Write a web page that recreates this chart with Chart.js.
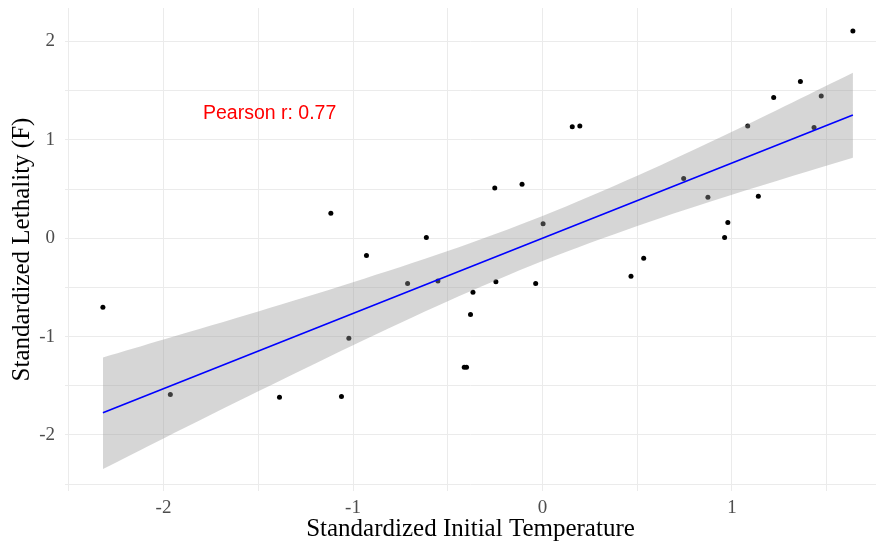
<!DOCTYPE html>
<html>
<head>
<meta charset="utf-8">
<script src="https://cdn.jsdelivr.net/npm/chart.js@4.4.1/dist/chart.umd.min.js"></script>
<style>
  html, body { margin: 0; padding: 0; background: #fff; }
</style>
</head>
<body>
<canvas id="grafico" width="880" height="544"></canvas>
<script>
// Dados (valores padronizados)
const tempInicial = [-2.320, -1.964, -1.388, -1.117, -1.061, -1.022, -0.929, -0.712, -0.613, -0.552,
                     -0.413, -0.401, -0.380, -0.367, -0.252, -0.246, -0.108, -0.036, 0.003, 0.157,
                     0.197, 0.467, 0.534, 0.745, 0.873, 0.961, 0.978, 1.083, 1.139, 1.220,
                     1.361, 1.433, 1.471, 1.638];
const letalidade = [-0.701, -1.589, -1.616, 0.254, -1.609, -1.016, -0.177, -0.461, 0.006, -0.434,
                    -1.311, -1.311, -0.776, -0.549, 0.511, -0.444, 0.549, -0.461, 0.148, 1.134,
                    1.141, -0.386, -0.203, 0.606, 0.417, 0.006, 0.159, 1.141, 0.427, 1.429,
                    1.592, 1.124, 1.446, 2.107];

// Reta de regressão e faixa de confiança
const retaX = [-2.32, 1.638];
const retaY = [-1.775, 1.253];
const faixaX = [-2.32, -2.0, -1.5, -1.0, -0.5, 0.0, 0.5, 1.0, 1.638];
const faixaSup = [-1.213, -1.03, -0.745, -0.448, -0.131, 0.226, 0.635, 1.082, 1.683];
const faixaInf = [-2.348, -2.036, -1.557, -1.088, -0.641, -0.232, 0.125, 0.442, 0.818];

// Ticks
const ticksX = [-2.5, -2, -1.5, -1, -0.5, 0, 0.5, 1, 1.5];
const ticksY = [-2.5, -2, -1.5, -1, -0.5, 0, 0.5, 1, 1.5, 2];

const textoPearson = 'Pearson r: 0.77';
const posPearson = { x: -1.44, y: 1.27 };

const pares = (xs, ys) => xs.map((v, i) => ({ x: v, y: ys[i] }));

// Texto do coeficiente
const anotacao = {
    id: 'anotacao',
    afterDatasetsDraw(chart) {
        const { ctx, scales: { x, y } } = chart;
        ctx.save();
        ctx.font = '19.5px "Liberation Sans"';
        ctx.fillStyle = '#ff0000';
        ctx.textAlign = 'center';
        ctx.textBaseline = 'middle';
        ctx.fillText(textoPearson, x.getPixelForValue(posPearson.x), y.getPixelForValue(posPearson.y));
        ctx.restore();
    }
};

const fonteEixo = { family: '"Liberation Serif"', size: 19 };
const fonteTitulo = { family: '"Liberation Serif"', size: 25 };

const grafico = new Chart(document.getElementById('grafico').getContext('2d'), {
    type: 'scatter',
    data: {
        datasets: [{
            label: 'Pontos',
            data: pares(tempInicial, letalidade),
            backgroundColor: '#000',
            borderWidth: 0,
            pointRadius: 2.5,
            order: 3
        }, {
            label: 'IC inferior',
            data: pares(faixaX, faixaInf),
            showLine: true,
            borderWidth: 0,
            pointRadius: 0,
            fill: false,
            tension: 0.3,
            order: 2
        }, {
            label: 'IC superior',
            data: pares(faixaX, faixaSup),
            showLine: true,
            borderWidth: 0,
            pointRadius: 0,
            fill: '-1',
            backgroundColor: 'rgba(153, 153, 153, 0.4)',
            tension: 0.3,
            order: 2
        }, {
            label: 'Regressão',
            data: pares(retaX, retaY),
            showLine: true,
            borderColor: '#0000ff',
            borderWidth: 1.6,
            pointRadius: 0,
            order: 1
        }]
    },
    options: {
        responsive: false,
        animation: false,
        layout: { padding: { top: 8, right: 2, left: 0, bottom: 0 } },
        plugins: { legend: { display: false }, tooltip: { enabled: false } },
        scales: {
            x: {
                type: 'linear',
                min: -2.52,
                max: 1.76,
                afterBuildTicks: s => { s.ticks = ticksX.map(v => ({ value: v })); },
                afterFit: s => { s.height = 53; s.paddingLeft = 0; s.paddingRight = 0; },
                grid: { color: '#ebebeb', drawTicks: false },
                border: { display: false },
                ticks: {
                    autoSkip: false, maxRotation: 0, padding: 6,
                    color: '#4d4d4d', font: fonteEixo,
                    callback: v => Number.isInteger(v) ? String(v) : ''
                },
                title: {
                    display: true, text: 'Standardized Initial Temperature',
                    color: '#000', font: fonteTitulo, padding: { top: 0, bottom: 0 }
                }
            },
            y: {
                type: 'linear',
                min: -2.57,
                max: 2.34,
                afterBuildTicks: s => { s.ticks = ticksY.map(v => ({ value: v })); },
                afterFit: s => { s.width = 65; s.paddingTop = 0; s.paddingBottom = 0; },
                grid: { color: '#ebebeb', drawTicks: false },
                border: { display: false },
                ticks: {
                    autoSkip: false, padding: 10,
                    color: '#4d4d4d', font: fonteEixo,
                    callback: v => Number.isInteger(v) ? String(v) : ''
                },
                title: {
                    display: true, text: 'Standardized Lethality (F)',
                    color: '#000', font: fonteTitulo, padding: { top: 7, bottom: 0 }
                }
            }
        }
    },
    plugins: [anotacao]
});
</script>
</body>
</html>
